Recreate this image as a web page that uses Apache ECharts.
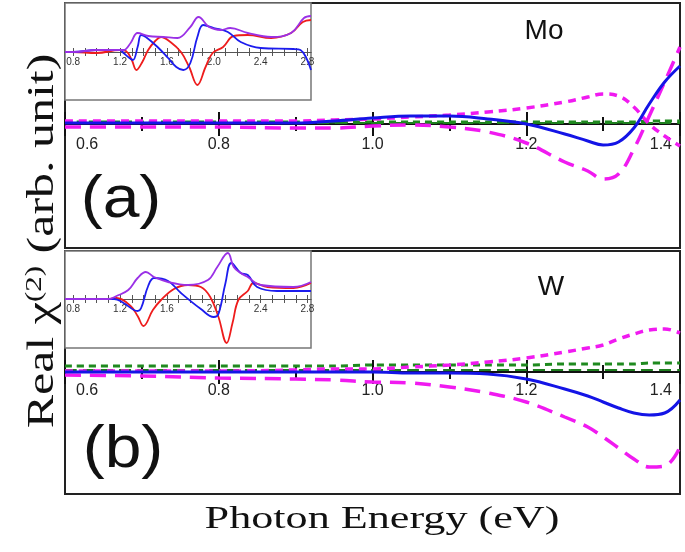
<!DOCTYPE html>
<html>
<head>
<meta charset="utf-8">
<script src="https://cdn.jsdelivr.net/npm/echarts@6/dist/echarts.min.js"></script>
<style>
  html, body { margin: 0; padding: 0; background: #fff; }
  #chart { width: 685px; height: 552px; }
</style>
</head>
<body>
<div id="chart"></div>
<script>
// main panels, photon energy (eV)
var energyMain = [0.6, 0.7, 0.8, 0.9, 0.95, 1.0, 1.05, 1.1, 1.15, 1.2, 1.25, 1.28, 1.3, 1.32, 1.34, 1.36, 1.38, 1.4]
var mainTicks = ['0.6', '0.8', '1.0', '1.2', '1.4']

// (a) Mo
var moBlue      = [1, 1, 1, 1, 3, 6, 8, 8, 5, 0, -10, -17, -21, -18, -4, 20, 42, 58]
var moDash      = [-3, -3, -3, -4, -4, -2, -1, -3, -8, -19, -38, -47, -55, -50, -25, 8, 42, 77]
var moDot       = [3, 3, 3, 3, 4, 5, 7, 9, 12, 16, 22, 27, 30, 28, 17, 0, -12, -22]
var moGreenDot  = [2, 2, 2, 2, 2, 2, 2, 2, 2, 2, 2, 2, 2, 2, 2, 3, 3, 3]
var moGreenDash = [1, 1, 1, 1, 1, 1, 1, 1, 1, 1, 1, 1, 1, 1, 1, 1, 1, 1]

// (b) W
var wBlue      = [0, 0, 0, 0, 0, 0, -1, -1, -2, -7, -17, -24, -30, -36, -41, -43, -41, -28]
var wDash      = [-3, -4, -6, -7, -8, -10, -11, -15, -21, -30, -45, -55, -65, -76, -87, -95, -94, -75]
var wDot       = [1, 1, 1, 2, 3, 3, 5, 7, 10, 14, 20, 24, 27, 33, 38, 42, 43, 39]
var wGreenDot  = [6, 6, 6, 6, 6, 7, 7, 7, 7, 7, 8, 8, 8, 8, 8, 9, 9, 9]
var wGreenDash = [2, 2, 2, 2, 2, 2, 2, 2, 2, 2, 2, 2, 2, 2, 2, 2, 2, 2]

// insets
var insetTicks  = [0.8, 0.9, 1.0, 1.1, 1.2, 1.3, 1.4, 1.5, 1.6, 1.7, 1.8, 1.9, 2.0, 2.1, 2.2, 2.3, 2.4, 2.5, 2.6, 2.7, 2.8]
var insetLabels = [0.8, 1.2, 1.6, 2.0, 2.4, 2.8]

var moRedE    = [0.73, 0.8, 1.0, 1.2, 1.25, 1.3, 1.34, 1.39, 1.44, 1.5, 1.55, 1.63, 1.72, 1.79, 1.86, 1.93, 1.99, 2.08, 2.17, 2.29, 2.49, 2.66, 2.76, 2.83]
var moRed     = [0, 0, -1, 2, 1, -8, -18, -10, 2, 11, 15, 10, 0, -15, -33, -15, -1, 5, 16, 17, 14, 19, 30, 32]
var moBlueE   = [0.73, 0.8, 1.0, 1.2, 1.23, 1.28, 1.31, 1.35, 1.38, 1.42, 1.52, 1.61, 1.68, 1.74, 1.8, 1.86, 1.91, 2.0, 2.12, 2.23, 2.4, 2.68, 2.74, 2.83]
var moBlueIn  = [0, 0, 2, 2, -1, -6, -8, 5, 17, 15, 5, -6, -15, -18, -11, 15, 27, 24, 20, 10, 4, 3, 2, -18]
var moPurpE   = [0.73, 0.8, 1.0, 1.2, 1.23, 1.29, 1.35, 1.44, 1.57, 1.69, 1.8, 1.87, 1.96, 2.06, 2.14, 2.29, 2.49, 2.66, 2.77, 2.83]
var moPurp    = [0, 0, 2, 2, 2, 9, 19, 16, 15, 14, 25, 35, 25, 22, 24, 19, 15, 19, 34, 36]

var wRedE     = [0.73, 0.8, 1.1, 1.17, 1.29, 1.35, 1.4, 1.48, 1.55, 1.66, 1.78, 1.89, 1.97, 2.04, 2.11, 2.16, 2.21, 2.29, 2.34, 2.46, 2.68, 2.83]
var wRed      = [0, 0, 0, 1, -7, -17, -27, -11, -1, 10, 14, 12, 2, -18, -44, -24, -1, 8, 16, 12, 11, 16]
var wBlueE    = [0.73, 0.8, 1.15, 1.23, 1.35, 1.38, 1.44, 1.49, 1.61, 1.72, 1.89, 2.0, 2.04, 2.1, 2.15, 2.23, 2.29, 2.37, 2.54, 2.83]
var wBlueIn   = [0, 0, 0, -4, -12, -9, 13, 21, 18, 6, -10, -18, -15, 16, 36, 26, 24, 12, 8, 8]
var wPurpE    = [0.73, 0.8, 1.1, 1.17, 1.27, 1.35, 1.42, 1.49, 1.61, 1.78, 1.95, 2.03, 2.12, 2.17, 2.23, 2.29, 2.4, 2.68, 2.83]
var wPurp     = [0, 0, 0, 3, 9, 21, 27, 22, 17, 14, 19, 32, 46, 32, 26, 22, 14, 12, 17]

var SANS = 'Liberation Sans, Arial, sans-serif'
var SERIF = 'Liberation Serif, Times New Roman, serif'

function pairs(xs, ys) {
  return xs.map(function (x, i) { return [x, ys[i]] })
}

// main x axis on the zero line, ticks up or down (two grids stacked on each other)
function mainX(grid, up) {
  return {
    type: 'value', gridIndex: grid, min: 0.6, max: 1.4, interval: 0.2, position: 'bottom',
    axisLine: { onZero: true, lineStyle: { color: '#111', width: 2 } },
    axisTick: { inside: up, length: 12, lineStyle: { color: '#111', width: 2 } },
    minorTick: { show: true, splitNumber: 2, length: 7, lineStyle: { color: '#111', width: 2 } },
    splitLine: { show: false },
    axisLabel: { show: false }
  }
}

// labels only, in a grid whose bottom edge is the zero line
function mainLabels(grid, margin) {
  return {
    type: 'value', gridIndex: grid, min: 0.6, max: 1.4, interval: 0.2, position: 'bottom',
    axisLine: { show: false, onZero: false }, axisTick: { show: false }, splitLine: { show: false },
    axisLabel: {
      show: true, margin: margin, fontSize: 16, color: '#222', fontFamily: SANS,
      alignMinLabel: 'left', alignMaxLabel: 'right',
      formatter: function (v) {
        var s = v.toFixed(1)
        if (s === mainTicks[0]) return '{lo|' + s + '}'
        if (s === mainTicks[mainTicks.length - 1]) return '{hi|' + s + '}'
        return s
      },
      rich: {
        lo: { padding: [0, 0, 0, 11], fontSize: 16, color: '#222', fontFamily: SANS },
        hi: { padding: [0, 8, 0, 0], fontSize: 16, color: '#222', fontFamily: SANS }
      }
    }
  }
}

function insetX(grid, up) {
  return {
    type: 'value', gridIndex: grid, min: 0.73, max: 2.83, position: 'bottom',
    axisLine: { onZero: true, lineStyle: { color: '#555', width: 1 } },
    axisTick: { inside: up, length: 4, customValues: insetTicks, lineStyle: { color: '#555', width: 1 } },
    splitLine: { show: false },
    axisLabel: { show: false }
  }
}

function insetLabelsX(grid) {
  return {
    type: 'value', gridIndex: grid, min: 0.73, max: 2.83, position: 'bottom',
    axisLine: { show: false, onZero: false }, axisTick: { show: false }, splitLine: { show: false },
    axisLabel: {
      show: true, margin: 5, fontSize: 10, color: '#333', fontFamily: SANS,
      customValues: insetLabels,
      formatter: function (v) { return v.toFixed(1) }
    }
  }
}

function hiddenY(grid, min, max) {
  return { type: 'value', gridIndex: grid, min: min, max: max, show: false, splitLine: { show: false } }
}

function line(name, idx, data, color, width, dash, smooth) {
  return {
    name: name, type: 'line', xAxisIndex: idx, yAxisIndex: idx,
    data: data, showSymbol: false, symbol: 'none', smooth: smooth,
    lineStyle: { color: color, width: width, type: dash },
    animation: false
  }
}

function txt(s, x, y, size, family, sx, rot, rich) {
  return {
    type: 'text', x: x, y: y, rotation: rot || 0, scaleX: sx || 1, z: 10,
    style: {
      text: s, fontSize: size, fontFamily: family, fill: '#111',
      align: 'center', verticalAlign: 'middle', rich: rich
    }
  }
}

var boxA = { left: 65, top: 3, width: 615, height: 245 }
var boxB = { left: 65, top: 251, width: 615, height: 243 }
var boxIA = { left: 65, top: 3, width: 246, height: 97 }
var boxIB = { left: 65, top: 251, width: 246, height: 97 }
// upper part of each box, down to its zero line
var labA = { left: 65, top: 3, width: 615, height: 121 }
var labB = { left: 65, top: 251, width: 615, height: 121 }
var labIA = { left: 65, top: 3, width: 246, height: 49 }
var labIB = { left: 65, top: 251, width: 246, height: 48 }

function grid(box, extra) {
  return Object.assign({ outerBoundsMode: 'none', show: false }, box, extra || {})
}

var chart = echarts.init(document.getElementById('chart'))

chart.setOption({
  backgroundColor: '#fff',
  animation: false,
  grid: [
    grid(boxA, { show: true, borderColor: '#222', borderWidth: 2 }),
    grid(boxB, { show: true, borderColor: '#222', borderWidth: 2 }),
    grid(boxIA, { show: true, backgroundColor: '#fff', borderColor: '#777', borderWidth: 1.5 }),
    grid(boxIB, { show: true, backgroundColor: '#fff', borderColor: '#777', borderWidth: 1.5 }),
    grid(boxA), grid(boxB), grid(boxIA), grid(boxIB),
    grid(labA), grid(labB), grid(labIA), grid(labIB)
  ],
  xAxis: [
    mainX(0, true), mainX(1, true), insetX(2, true), insetX(3, true),
    mainX(4, false), mainX(5, false), insetX(6, false), insetX(7, false),
    mainLabels(8, 13), mainLabels(9, 11), insetLabelsX(10), insetLabelsX(11)
  ],
  yAxis: [
    hiddenY(0, -124, 121), hiddenY(1, -122, 121), hiddenY(2, -48, 49), hiddenY(3, -49, 48),
    hiddenY(4, -124, 121), hiddenY(5, -122, 121), hiddenY(6, -48, 49), hiddenY(7, -49, 48),
    hiddenY(8, 0, 1), hiddenY(9, 0, 1), hiddenY(10, 0, 1), hiddenY(11, 0, 1)
  ],
  graphic: [
    txt('Mo', 544, 31, 28, SANS),
    txt('W', 551, 287, 28, SANS),
    txt('(a)', 121, 200, 60, SANS, 1.1),
    txt('(b)', 123, 450, 60, SANS, 1.1),
    txt('Real χ{sup|(2)} (arb. unit)', 43, 241, 37, SERIF, 1.35, Math.PI / 2,
      { sup: { fontSize: 23, fontFamily: SERIF, fill: '#111', padding: [0, 0, 16, 0] } }),
    txt('Photon Energy (eV)', 382, 520, 32, SERIF, 1.38)
  ],
  series: [
    // (a) Mo main
    line('Mo green dash', 0, pairs(energyMain, moGreenDash), '#1f7f1f', 2, [12, 6], 0.3),
    line('Mo green dot', 0, pairs(energyMain, moGreenDot), '#1f8a1f', 3, [7, 5], 0.3),
    line('Mo dash', 0, pairs(energyMain, moDash), '#f01af0', 3.5, [16, 9], 0.4),
    line('Mo dot', 0, pairs(energyMain, moDot), '#f01af0', 3.5, [8, 6], 0.4),
    line('Mo', 0, pairs(energyMain, moBlue), '#1414e6', 3, 'solid', 0.4),
    // (b) W main
    line('W green dash', 1, pairs(energyMain, wGreenDash), '#1f7f1f', 2, [12, 6], 0.3),
    line('W green dot', 1, pairs(energyMain, wGreenDot), '#1f8a1f', 3, [7, 5], 0.3),
    line('W dash', 1, pairs(energyMain, wDash), '#f01af0', 3.5, [16, 9], 0.4),
    line('W dot', 1, pairs(energyMain, wDot), '#f01af0', 3.5, [8, 6], 0.4),
    line('W', 1, pairs(energyMain, wBlue), '#1414e6', 3, 'solid', 0.4),
    // insets
    line('Mo red inset', 2, pairs(moRedE, moRed), '#ee1c1c', 1.8, 'solid', 0.4),
    line('Mo blue inset', 2, pairs(moBlueE, moBlueIn), '#1c1cee', 1.8, 'solid', 0.4),
    line('Mo purple inset', 2, pairs(moPurpE, moPurp), '#9a30e6', 1.8, 'solid', 0.4),
    line('W red inset', 3, pairs(wRedE, wRed), '#ee1c1c', 1.8, 'solid', 0.4),
    line('W blue inset', 3, pairs(wBlueE, wBlueIn), '#1c1cee', 1.8, 'solid', 0.4),
    line('W purple inset', 3, pairs(wPurpE, wPurp), '#9a30e6', 1.8, 'solid', 0.4)
  ]
})
</script>
</body>
</html>
